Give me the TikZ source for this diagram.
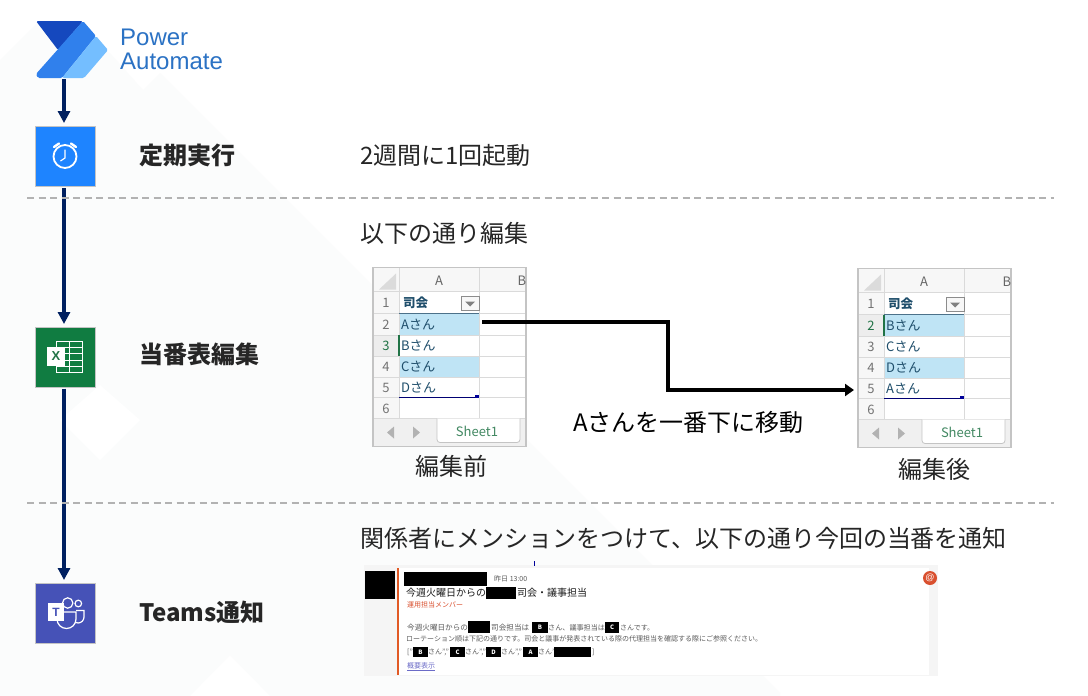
\documentclass[tikz,border=0pt]{standalone}
\usepackage{fontspec}
\setmainfont{Noto Sans CJK JP}
\newfontfamily\latinfont{Liberation Sans}
\usetikzlibrary{arrows.meta,calc}
\definecolor{navy}{HTML}{002060}
\definecolor{ink}{HTML}{262626}
\definecolor{grid}{HTML}{DADADA}
\definecolor{frameGray}{HTML}{C4C4C4}
\definecolor{band}{HTML}{BFE4F5}
\definecolor{cellink}{HTML}{1F4E6B}
\definecolor{xlgreen}{HTML}{217346}
\definecolor{paleBg}{HTML}{FBFCFC}
\definecolor{mailred}{HTML}{D9502F}
\definecolor{teamsblue}{RGB}{70,82,183}
\tikzset{
  flow/.style={draw=navy,line width=3.4pt,shorten >=2.5pt,-{Triangle[length=12pt,width=12pt]}},
  iconbox/.style={minimum width=60pt,minimum height=60pt,inner sep=0pt,draw=frameGray,line width=1pt},
  stepname/.style={font=\fontsize{24}{26}\selectfont\bfseries,text=ink,anchor=west,inner sep=0pt},
  body/.style={font=\fontsize{24}{26}\selectfont,text=ink,anchor=west,inner sep=0pt},
  sepline/.style={draw=black!30,line width=1.2pt,dash pattern=on 7pt off 4.5pt},
  cell/.style={font=\fontsize{13}{14}\selectfont,text=cellink,anchor=west,inner sep=0pt},
  rownum/.style={font=\fontsize{13}{14}\selectfont,text=black!55,inner sep=0pt},
  mail/.style={font=\fontsize{7}{8}\selectfont,text=black!65,anchor=west,inner sep=0pt},
  redact/.style={fill=black,draw=none},
  tag/.style={fill=black,text=white,font=\fontsize{6}{7}\selectfont\bfseries,inner sep=0pt,minimum width=15pt,minimum height=10pt}
}
% #1 prefix, #2 origin, #3..#6 row texts, #7 active row
\newcommand{\xlsheet}[7]{%
\begin{scope}[shift={#2}]
  \fill[white] (0,0) rectangle (153,179);
  \fill[black!3] (0,0) rectangle (153,24);
  \fill[black!3] (0,0) rectangle (26,150);
  \fill[band] (26,46) rectangle (106,68);
  \fill[band] (26,89) rectangle (106,110);
  \fill[black!7] (0,{46+(#7-2)*21.2}) rectangle (26,{46+(#7-1)*21.2});
  \fill[black!14] (6,22) -- (23,6) -- (23,22) -- cycle;
  \foreach \yy in {24,46,68,89,110,130,151} \draw[grid,line width=.8pt] (0,\yy) -- (153,\yy);
  \draw[grid,line width=.8pt] (26,0) -- (26,151);
  \draw[grid,line width=.8pt] (106,0) -- (106,151);
  \fill[black!6] (0,151) rectangle (153,179);
  \path[fill=white,draw=frameGray,line width=.8pt,rounded corners=3pt] (64,151) -- (64,175) -- (147,175) -- (147,151);
  \draw[frameGray,line width=1.3pt] (0,0) rectangle (153,179);
  \fill[xlgreen] (24.5,{46+(#7-2)*21.2}) rectangle (26.5,{46+(#7-1)*21.2});
  \draw[cellink!80,line width=1.1pt] (26,46) -- (106,46);
  \draw[blue!45!black,line width=.9pt] (26,130) -- (106,130);
  \fill[blue!60!black] (102,127) rectangle (106,130);
  \draw[black!45,line width=.8pt,fill=black!3] (88,29) rectangle (106,43);
  \fill[black!50] (92,34) -- (102,34) -- (97,39) -- cycle;
  \node[rownum,text=black!60] (#1h) at (66,13) {A};
  \node[rownum,text=black!60] (#1i) at (149,13) {B};
  \foreach \n/\yy in {1/35,2/57,3/78,4/99,5/120,6/141} {
    \ifnum\n=#7\relax
      \node[rownum,text=xlgreen] (#1n\n) at (13,\yy) {\n};
    \else
      \node[rownum] (#1n\n) at (13,\yy) {\n};
    \fi
  }
  \node[cell,font=\fontsize{12.5}{13}\selectfont\bfseries] (#1a) at (30,35) {司会};
  \node[cell] (#1b) at (28,57) {#3};
  \node[cell] (#1c) at (28,78) {#4};
  \node[cell] (#1d) at (28,99) {#5};
  \node[cell] (#1e) at (28,120) {#6};
  \node[font=\fontsize{13}{14}\selectfont,text=xlgreen!85!white,inner sep=0pt] (#1s) at (104,164) {Sheet1};
  \fill[black!30] (21,159) -- (14,165) -- (21,171) -- cycle;
  \fill[black!30] (40,159) -- (47,165) -- (40,171) -- cycle;
\end{scope}}
\begin{document}
\begin{tikzpicture}[x=1pt,y=-1pt]
\useasboundingbox (0,0) rectangle (1088,696);
\fill[white] (0,0) rectangle (1088,696);
% background
\fill[paleBg] (0,60) -- (37,23) -- (110,53) -- (143,90) -- (160,73) -- (780,693) -- (780,696) -- (270,696) -- (230,655) -- (190,696) -- (0,696) -- cycle;
\fill[white] (60,420) -- (100,385) -- (140,420) -- (100,460) -- cycle;
% logo
\node[minimum width=72pt,minimum height=58pt,inner sep=0pt] (logo) at (64,50) {};
\fill[rounded corners=1.5pt,color={rgb,255:red,21;green,72;blue,190}] (36,21) -- (83,21) -- (58,50) -- cycle;
\fill[rounded corners=1.5pt,color={rgb,255:red,48;green,128;blue,236}] (83,21) -- (96,36) -- (62,78) -- (38,78) -- (36,74) -- cycle;
\fill[rounded corners=1.5pt,color={rgb,255:red,116;green,190;blue,255}] (96,36) -- (108,50) -- (84,78) -- (62,78) -- cycle;
\node[font=\latinfont\fontsize{24}{24}\selectfont,text={rgb,255:red,43;green,114;blue,196},align=left,anchor=west,inner sep=0pt] (brand) at (120,49) {Power\\Automate};
% step boxes
\node[iconbox,fill={rgb,255:red,30;green,132;blue,255}] (alarm) at (65,156) {};
\node[iconbox,fill={rgb,255:red,16;green,124;blue,65}] (excel) at (65,357) {};
\node[iconbox,fill=teamsblue] (teams) at (65,613) {};
% alarm icon
\begin{scope}[white]
\draw[line width=1.8pt] (65,156.5) circle (11.5);
\draw[line width=1.2pt] (65,149.5) -- (65,158) -- (60.5,161);
\draw[line width=2.4pt,line cap=round] (54,147) -- (59,143.5);
\draw[line width=2.4pt,line cap=round] (71,143.5) -- (76,147);
\end{scope}
% excel icon
\begin{scope}[white]
\draw[line width=1pt] (56,341.5) rectangle (82,372);
\foreach \yy in {347.5,353.5,360,366} \draw[line width=1pt] (56,\yy) -- (82,\yy);
\draw[line width=1pt] (69,341.5) -- (69,372);
\fill (47,347) rectangle (65,366);
\node[text=xlgreen,font=\latinfont\bfseries\fontsize{13}{14}\selectfont,inner sep=0pt] (xmark) at (56,356.5) {X};
\end{scope}
% teams icon
\begin{scope}[white]
\draw[line width=1.2pt] (67.7,603) circle (5.2);
\draw[line width=1.2pt] (78.3,603.5) circle (3.3);
\draw[line width=1.2pt] (64,612) -- (76,612) -- (76,619) arc[start angle=0,end angle=180,radius=9.5] ;
\draw[line width=1.2pt] (76,610.5) -- (84,610.5) -- (84,617) arc[start angle=0,end angle=120,radius=6];
\fill (48,603) rectangle (64,621);
\node[text=teamsblue,font=\latinfont\bfseries\fontsize{12}{13}\selectfont,inner sep=0pt] (tmark) at (56,612) {T};
\end{scope}
% flow
\draw[flow] (logo.south -| 64,50) -- (alarm.north -| 64,50);
\draw[flow,shorten <=1.5pt] (alarm.south -| 64,50) -- (excel.north -| 64,50);
\draw[flow,shorten <=1pt] (excel.south -| 64,50) -- (teams.north -| 64,50);
% separators
\coordinate (s1a) at (27,198); \coordinate (s1b) at (1054,198);
\coordinate (s2a) at (27,503); \coordinate (s2b) at (1054,503);
\draw[sepline] (s1a) -- (s1b);
\draw[sepline] (s2a) -- (s2b);
% labels
\node[stepname] (t1) at (139,155) {定期実行};
\node[stepname] (t2) at (139,354) {当番表編集};
\node[stepname] (t3) at (139,612) {Teams通知};
\node[body] (d1) at (360,155) {2週間に1回起動};
\node[body] (d2) at (360,233) {以下の通り編集};
\node[body] (d3) at (360,538) {関係者にメンションをつけて、以下の通り今回の当番を通知};
% sheets
\xlsheet{p}{(373,267.5)}{Aさん}{Bさん}{Cさん}{Dさん}{3}
\xlsheet{q}{(858,268.5)}{Bさん}{Cさん}{Dさん}{Aさん}{2}
\node[body,anchor=center] (before) at (451.5,466) {編集前};
\node[body,anchor=center] (after) at (934.5,469) {編集後};
\node[body,text=black,anchor=west] (move) at (573,422) {Aさんを一番下に移動};
\coordinate (from) at (482,322);
\coordinate (to) at (854,390);
\draw[black,line width=3.4pt,-{Triangle[length=9pt,width=12pt]}] (from) -- (668,322) -- (668,390) -- (to);
% message card
\fill[black!4] (364,565) rectangle (938,676);
\fill[white] (397,568) rectangle (929,675);
\fill[mailred!80!orange] (397,568) rectangle (399,675);
\fill[black!40!blue] (533.8,561) rectangle (534.6,566);
\fill[redact] (365,571) rectangle (395,599);
\fill[redact] (404,572) rectangle (487,586);
\node[mail] (when) at (494,579) {昨日 13:00};
\node[mail,text=black!90,font=\fontsize{10}{11}\selectfont] (subject) at (406,592.5) {今週火曜日からの};
\fill[redact] (486,587) rectangle (516,599);
\node[mail,text=black!90,font=\fontsize{10}{11}\selectfont] (subject2) at (517,592.5) {司会・議事担当};
\node[mail,text=mailred] (team) at (407,605) {運用担当メンバー};
\node[mail,font=\fontsize{7.6}{8}\selectfont] (l1a) at (407,627.5) {今週火曜日からの};
\fill[redact] (468,621) rectangle (490,633);
\node[mail,font=\fontsize{7.6}{8}\selectfont] (l1b) at (491,627.5) {司会担当は};
\node[tag,minimum width=16pt,minimum height=11pt] (tb) at (540,627.5) {B};
\node[mail,font=\fontsize{7.1}{8}\selectfont] (l1c) at (548,627.5) {さん、議事担当は};
\node[tag,minimum width=14pt,minimum height=11pt] (tc) at (612,627.5) {C};
\node[mail] (l1d) at (620,627.5) {さんです。};
\node[mail] (l2) at (406,639) {ローテーション順は下記の通りです。司会と議事が発表されている際の代理担当を確認する際にご参照ください。};
\node[mail] (l3a) at (407,652) {["};
\node[tag] (r1) at (420.5,652) {B};
\node[mail] (l3b) at (428,652) {さん","};
\node[tag] (r2) at (457.5,652) {C};
\node[mail] (l3c) at (465,652) {さん","};
\node[tag] (r3) at (493.5,652) {D};
\node[mail] (l3d) at (501,652) {さん","};
\node[tag] (r4) at (530.5,652) {A};
\node[mail] (l3e) at (538,652) {さん"};
\fill[redact] (554,647) rectangle (591,657);
\node[mail] (l3f) at (592,652) {]};
\node[mail,text=blue!45!gray!80] (more) at (407,667) {\underline{概要表示}};
\node[circle,fill=mailred,minimum size=14pt,inner sep=0pt,text=white,font=\latinfont\fontsize{9}{10}\selectfont] (at) at (930,578) {@};
\end{tikzpicture}
\end{document}
